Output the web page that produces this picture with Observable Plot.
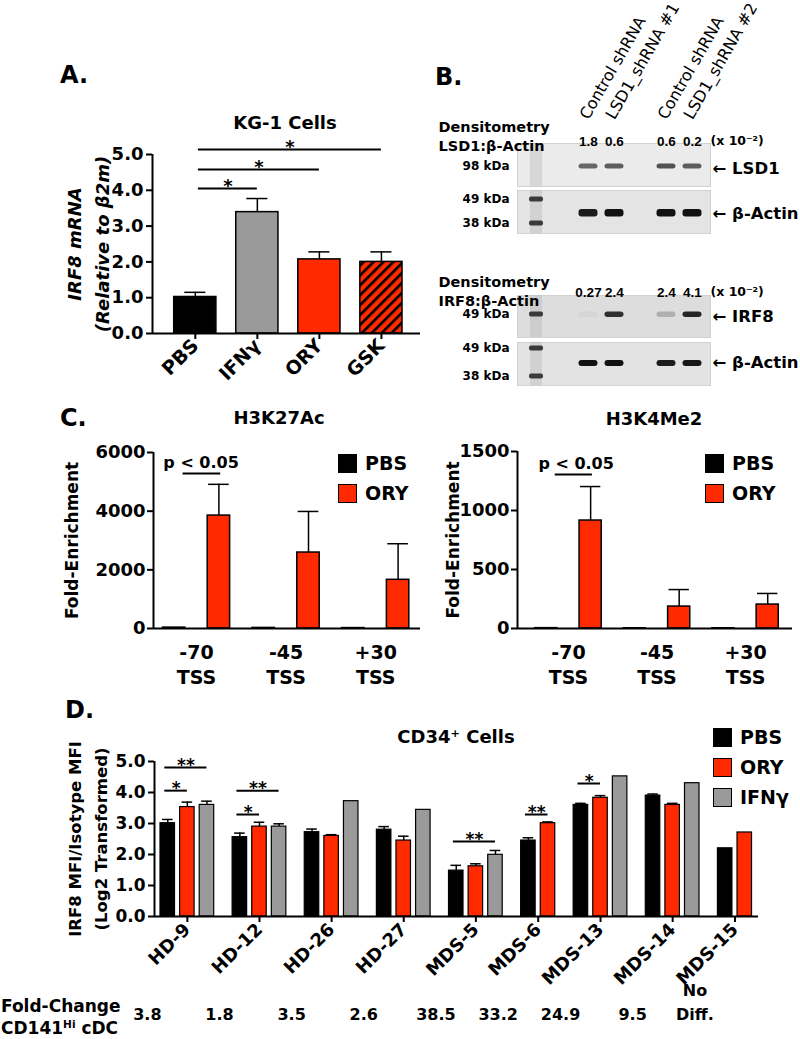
<!DOCTYPE html>
<html>
<head>
<meta charset="utf-8">
<script src="https://cdn.jsdelivr.net/npm/d3@7"></script>
<script src="https://cdn.jsdelivr.net/npm/@observablehq/plot@0.6"></script>
<style>
  html, body { margin: 0; padding: 0; background: #fff; }
  #fig { position: relative; width: 800px; height: 1039px; overflow: hidden; background: #fff;
         font-family: "DejaVu Sans", "Liberation Sans", sans-serif; font-weight: bold; color: #000; }
  #fig .lbl { position: absolute; white-space: nowrap; line-height: 1; }
  #fig .lbl sup { font-size: 0.62em; vertical-align: 0.55em; line-height: 0; }
  #fig svg { position: absolute; }
  #fig .sw { position: absolute; width: 19px; height: 19px; box-sizing: border-box; border: 1.5px solid #000; }
</style>
</head>
<body>
<div id="fig"></div>
<script>
// ================= DATA =================
// Panel A — KG-1 cells, IRF8 mRNA relative to β2m
const aCategories = ["PBS", "IFNγ", "ORY", "GSK"];
const aMeans = [1.02, 3.39, 2.07, 2.00];
const aSEM = [0.13, 0.38, 0.21, 0.28];
const aSigFrom = ["PBS", "PBS", "PBS"];
const aSigTo = ["IFNγ", "ORY", "GSK"];
const aSigLevel = [4.05, 4.58, 5.14];
const aSigLabel = ["*", "*", "*"];

// Panel B — western blots
const bLanes = ["Control shRNA", "LSD1_shRNA #1", "Control shRNA", "LSD1_shRNA #2"];
const bLsd1Ratio = ["1.8", "0.6", "0.6", "0.2"];
const bIrf8Ratio = ["0.27", "2.4", "2.4", "4.1"];
const bLsd1Band = [0.6, 0.65, 0.7, 0.65];
const bActin1Band = [0.95, 1, 1, 1];
const bIrf8Band = [0.04, 0.85, 0.22, 0.9];
const bActin2Band = [1, 1, 0.95, 0.97];

// Panel C — ChIP fold-enrichment
const cSites = ["-70", "-45", "+30"];
const h3k27acPBS = [30, 20, 15];
const h3k27acORY = [3850, 2590, 1660];
const h3k27acORYErr = [1065, 1400, 1230];
const h3k4me2PBS = [3, 2, 2];
const h3k4me2ORY = [915, 186, 203];
const h3k4me2ORYErr = [288, 144, 94];

// Panel D — CD34+ cells, IRF8 MFI / isotype MFI (log2)
const dDonors = ["HD-9", "HD-12", "HD-26", "HD-27", "MDS-5", "MDS-6", "MDS-13", "MDS-14", "MDS-15"];
const dSeries = ["PBS", "ORY", "IFNγ"];
const dPBS = [3.01, 2.56, 2.72, 2.80, 1.48, 2.45, 3.60, 3.90, 2.20];
const dPBSErr = [0.12, 0.13, 0.10, 0.10, 0.17, 0.09, 0.05, 0.05, null];
const dORY = [3.53, 2.90, 2.60, 2.45, 1.62, 3.01, 3.83, 3.60, 2.71];
const dORYErr = [0.16, 0.14, 0.04, 0.14, 0.08, 0.04, 0.07, 0.05, null];
const dIFN = [3.60, 2.90, 3.72, 3.44, 1.99, null, 4.52, 4.30, null];
const dIFNErr = [0.12, 0.09, null, null, 0.14, null, null, null, null];
const dFoldChange = ["3.8", "1.8", "3.5", "2.6", "38.5", "33.2", "24.9", "9.5", "No\nDiff."];
const dSigDonor = ["HD-9", "HD-9", "HD-12", "HD-12", "MDS-5", "MDS-6", "MDS-13"];
const dSigTarget = ["ORY", "IFNγ", "ORY", "IFNγ", "IFNγ", "ORY", "ORY"];
const dSigLevel = [4.06, 4.81, 3.29, 4.06, 2.42, 3.29, 4.29];
const dSigLabel = ["*", "**", "*", "**", "**", "**", "*"];

// ================= STYLE =================
const RED = "#ff2a00", GRAY = "#9a9a9a";
const seriesColor = {PBS: "#000000", ORY: RED, "IFNγ": GRAY, GSK: "url(#gskHatch)"};
const STYLE = "background:transparent;overflow:visible;font-family:'DejaVu Sans',sans-serif;font-weight:bold;color:#000;";
const fig = document.getElementById("fig");

function lbl(html, x, y, size, align = "left", extra = "") {
  const d = document.createElement("div");
  d.className = "lbl";
  d.innerHTML = html;
  d.style.cssText = `font-size:${size}px;left:${x}px;top:${y - 0.5 * size}px;` +
    (align === "center" ? "transform:translateX(-50%);" : "") + extra;
  fig.appendChild(d);
}
function put(svg, left, top) {
  svg.style.left = left + "px";
  svg.style.top = top + "px";
  fig.appendChild(svg);
}
function legend(names, x, y0, step) {
  names.forEach((n, i) => {
    const y = y0 + i * step;
    const sw = document.createElement("div");
    sw.className = "sw";
    sw.style.left = x + "px";
    sw.style.top = (y - 9.5) + "px";
    sw.style.background = seriesColor[n];
    fig.appendChild(sw);
    lbl(n, x + 27, y, 19);
  });
}
function addHatch(svg) {
  const ns = "http://www.w3.org/2000/svg";
  const defs = document.createElementNS(ns, "defs");
  const p = document.createElementNS(ns, "pattern");
  p.setAttribute("id", "gskHatch");
  p.setAttribute("patternUnits", "userSpaceOnUse");
  p.setAttribute("width", "7");
  p.setAttribute("height", "7");
  p.setAttribute("patternTransform", "rotate(45)");
  const r1 = document.createElementNS(ns, "rect");
  r1.setAttribute("width", "7"); r1.setAttribute("height", "7"); r1.setAttribute("fill", RED);
  const r2 = document.createElementNS(ns, "rect");
  r2.setAttribute("width", "2.6"); r2.setAttribute("height", "7"); r2.setAttribute("fill", "#000");
  p.append(r1, r2);
  defs.append(p);
  svg.prepend(defs);
}

// ================= PANEL A =================
{
  const data = aCategories.map((c, i) => ({cat: c, i, mean: aMeans[i], sem: aSEM[i]}));
  const idx = c => aCategories.indexOf(c);
  const sig = aSigFrom.map((f, k) => ({x1: idx(f) + 0.05, x2: idx(aSigTo[k]), level: aSigLevel[k], label: aSigLabel[k]}));
  const half = 0.34, xDom = [-0.69, 3.63];
  const svg = Plot.plot({
    width: 430, height: 380, marginTop: 154, marginBottom: 47, marginLeft: 152, marginRight: 10,
    style: STYLE,
    x: {domain: xDom, axis: null},
    y: {domain: [0, 5], axis: null},
    color: {type: "identity"},
    marks: [
      Plot.rect(data, {x1: d => d.i - half, x2: d => d.i + half, y1: 0, y2: "mean",
        fill: d => seriesColor[d.cat], stroke: "#000", strokeWidth: 1.5}),
      Plot.ruleX(data, {x: "i", y1: "mean", y2: d => d.mean + d.sem, strokeWidth: 1.5}),
      Plot.ruleY(data, {y: d => d.mean + d.sem, x1: d => d.i - 0.17, x2: d => d.i + 0.17, strokeWidth: 1.5}),
      Plot.ruleY([0], {strokeWidth: 2}),
      Plot.ruleX([xDom[0]], {y1: 0, y2: 5, strokeWidth: 2}),
      Plot.axisY({ticks: [0, 1, 2, 3, 4, 5], tickFormat: d => d.toFixed(1), tickSize: 6, tickPadding: 3,
        fontSize: 18, strokeWidth: 2, label: null}),
      Plot.axisX({ticks: [0, 1, 2, 3], tickFormat: i => aCategories[i], tickSize: 6, tickPadding: 3,
        tickRotate: -45, fontSize: 19, strokeWidth: 2, label: null}),
      Plot.ruleY(sig, {y: "level", x1: "x1", x2: "x2", strokeWidth: 2}),
      Plot.text(sig, {x: d => (d.x1 + d.x2) / 2, y: "level", text: "label", dy: -2, fontSize: 18}),
      Plot.text(["IRF8 mRNA\n(Relative to β2m)"], {text: d => d, x: xDom[0], y: 2.5, rotate: -90, dx: -66,
        fontSize: 18, fontStyle: "italic", lineHeight: 1.55})
    ]
  });
  addHatch(svg);
  put(svg, 0, 0);
  lbl("A.", 60, 75, 24);
  lbl("KG-1 Cells", 285, 123, 18, "center");
}

// ================= PANEL B =================
{
  const laneKeys = ["C1", "L1", "C2", "L2"];
  const laneDomain = ["M", "g1", "C1", "L1", "g2", "C2", "L2"];
  const strips = [
    {top: 143, h: 43, fill: "#ebebeb", target: "LSD1", bands: bLsd1Band, inset: [20.5, 17.5], ladder: [],
     kda: [["98 kDa", 1.5]], targetDy: 4, names: true,
     header: {title: "Densitometry\nLSD1:β-Actin", ratios: bLsd1Ratio, titleDy: -24.5, ratioDy: -7}},
    {top: 190, h: 43, fill: "#e4e4e4", target: "β-Actin", bands: bActin1Band, inset: [19, 16.5],
     ladder: [[6.5, 31.5], [30.5, 7.5]], kda: [["49 kDa", -12.5], ["38 kDa", 11.5]], targetDy: 1.5},
    {top: 295, h: 42, fill: "#dddddd", target: "IRF8", bands: bIrf8Band, inset: [16.5, 20],
     ladder: [[16.5, 20.5]], kda: [["49 kDa", -2]], targetDy: 0,
     header: {title: "Densitometry\nIRF8:β-Actin", ratios: bIrf8Ratio, titleDy: -22, ratioDy: -8}},
    {top: 342, h: 43, fill: "#e3e3e3", target: "β-Actin", bands: bActin2Band, inset: [18, 19],
     ladder: [[3.5, 34.5], [31.5, 6.5]], kda: [["49 kDa", -15.5], ["38 kDa", 12.5]], targetDy: -1.5}
  ];
  strips.forEach(s => {
    const lanes = laneKeys.map((k, i) => ({key: k, name: bLanes[i], intensity: s.bands[i],
      ratio: s.header ? s.header.ratios[i] : ""}));
    const marks = [
      Plot.frame({fill: s.fill, stroke: "#d2d2d2"}),
      Plot.cell(["M"], {x: d => d, fill: "#a8a8a8", fillOpacity: 0.3, insetLeft: 7, insetRight: 7}),
      Plot.cell(lanes, {x: "key", fill: "#111", fillOpacity: "intensity", insetTop: s.inset[0], insetBottom: s.inset[1],
        insetLeft: 3.5, insetRight: 3.5, rx: 3}),
      ...s.ladder.map(([t, b]) => Plot.cell(["M"], {x: d => d, fill: "#3a3a3a", insetTop: t, insetBottom: b,
        insetLeft: 6, insetRight: 6, rx: 2})),
      ...s.kda.map(([t, dy]) => Plot.text([t], {text: d => d, frameAnchor: "left", dx: -8, dy, textAnchor: "end", fontSize: 12})),
      Plot.text([`\u2190 ${s.target}`], {text: d => d, frameAnchor: "right", dx: 2, dy: s.targetDy, textAnchor: "start", fontSize: 16.5})
    ];
    if (s.header) {
      marks.push(
        Plot.text(lanes, {x: "key", text: "ratio", frameAnchor: "top", dy: s.header.ratioDy, fontSize: 13.5,
          fontFamily: "'Liberation Sans', sans-serif"}),
        Plot.text(["(x 10⁻²)"], {text: d => d, frameAnchor: "top-right", textAnchor: "start", dy: s.header.ratioDy, fontSize: 12.5}),
        Plot.text([s.header.title], {text: d => d, frameAnchor: "top-left", textAnchor: "start", dx: -79,
          dy: s.header.titleDy, fontSize: 14.5, lineHeight: 1.3})
      );
    }
    if (s.names) {
      marks.push(Plot.text(lanes, {x: "key", text: "name", frameAnchor: "top", dy: -23, rotate: -60,
        textAnchor: "start", lineAnchor: "bottom", fontSize: 16, fontWeight: "normal"}));
    }
    const svg = Plot.plot({
      width: 193, height: s.h, marginTop: 0, marginBottom: 0, marginLeft: 0, marginRight: 0,
      style: STYLE,
      x: {type: "band", domain: laneDomain, paddingInner: 0, paddingOuter: 0.14, axis: null},
      opacity: {type: "identity"},
      marks
    });
    put(svg, 517, s.top);
  });
  lbl("B.", 435, 77, 24);
}

// ================= PANEL C =================
function chipPlot(o) {
  const data = [];
  cSites.forEach((s, i) => {
    data.push({series: "PBS", value: o.pbs[i], center: i - 0.25});
    data.push({series: "ORY", value: o.ory[i], err: o.oryErr[i], center: i + 0.25});
  });
  const ory = data.filter(d => d.series === "ORY");
  const sx = cSites.indexOf("-70");
  return Plot.plot({
    width: o.width, height: 320, marginTop: o.mt, marginBottom: 72, marginLeft: o.ml, marginRight: o.mr,
    style: STYLE,
    x: {domain: o.xDom, axis: null},
    y: {domain: [0, o.yMax], axis: null},
    color: {type: "identity"},
    marks: [
      Plot.rect(data, {x1: d => d.center - 0.125, x2: d => d.center + 0.125, y1: 0, y2: "value",
        fill: d => seriesColor[d.series], stroke: "#000", strokeWidth: 1.5}),
      Plot.ruleX(ory, {x: "center", y1: "value", y2: d => d.value + d.err, strokeWidth: 1.5}),
      Plot.ruleY(ory, {y: d => d.value + d.err, x1: d => d.center - 0.115, x2: d => d.center + 0.115, strokeWidth: 1.5}),
      Plot.ruleY([0], {strokeWidth: 2}),
      Plot.ruleX([o.xDom[0]], {y1: 0, y2: o.yMax, strokeWidth: 2}),
      Plot.axisY({ticks: o.yTicks, tickFormat: d => String(d), tickSize: 6, tickPadding: 2, fontSize: 18,
        strokeWidth: 2, label: null}),
      Plot.text(cSites, {x: (d, i) => i, y: 0, text: d => d + "\nTSS", lineAnchor: "top", dy: 13,
        fontSize: 19, lineHeight: 1.32}),
      Plot.ruleY([o.sigLevel], {x1: sx - 0.15, x2: sx + 0.27, strokeWidth: 2}),
      Plot.text(["p < 0.05"], {text: d => d, x: sx - o.pOff, y: o.sigLevel, textAnchor: "start", dy: -11, fontSize: 16}),
      Plot.text(["Fold-Enrichment"], {text: d => d, x: o.xDom[0], y: o.yMax / 2, rotate: -90, dx: o.titleDx, fontSize: 17})
    ]
  });
}
put(chipPlot({pbs: h3k27acPBS, ory: h3k27acORY, oryErr: h3k27acORYErr, yMax: 6000, yTicks: [0, 2000, 4000, 6000],
  width: 430, mt: 72, ml: 153, mr: 10, xDom: [-0.48, 2.50], sigLevel: 5284, pOff: 0.37, titleDx: -81}), 0, 380);
put(chipPlot({pbs: h3k4me2PBS, ory: h3k4me2ORY, oryErr: h3k4me2ORYErr, yMax: 1500, yTicks: [0, 500, 1000, 1500],
  width: 800, mt: 71, ml: 517, mr: 8, xDom: [-0.576, 2.53], sigLevel: 1305, pOff: 0.34, titleDx: -64}), 0, 380);
lbl("C.", 60, 418, 24);
lbl("H3K27Ac", 279, 418, 18, "center");
lbl("H3K4Me2", 654, 419, 18, "center");
legend(["PBS", "ORY"], 338, 463, 30);
legend(["PBS", "ORY"], 705, 463, 30);

// ================= PANEL D =================
{
  const vals = {PBS: [dPBS, dPBSErr], ORY: [dORY, dORYErr], "IFNγ": [dIFN, dIFNErr]};
  const gap = 0.68, bw = 0.74;
  const bars = [], groups = [];
  let cursor = 0;
  dDonors.forEach((donor, gi) => {
    const first = cursor;
    dSeries.forEach(s => {
      const [v, e] = vals[s];
      if (v[gi] == null) return;
      bars.push({donor, series: s, value: v[gi], err: e[gi], x: cursor, c: cursor + bw / 2});
      cursor += 1;
    });
    groups.push({donor, center: (first + cursor - 1 + bw) / 2, fold: dFoldChange[gi]});
    cursor += gap;
  });
  const centerOf = (donor, s) => bars.find(b => b.donor === donor && b.series === s).c;
  const sig = dSigDonor.map((donor, k) => ({x1: centerOf(donor, "PBS") - 0.15, x2: centerOf(donor, dSigTarget[k]),
    level: dSigLevel[k], label: dSigLabel[k]}));
  const errs = bars.filter(b => b.err != null);
  const tickName = new Map(groups.map(g => [g.center, g.donor]));
  const xDom = [-0.306, 30.51];
  const svg = Plot.plot({
    width: 800, height: 349, marginTop: 71, marginBottom: 123, marginLeft: 154, marginRight: 42,
    style: STYLE,
    x: {domain: xDom, axis: null},
    y: {domain: [0, 5], axis: null},
    color: {type: "identity"},
    marks: [
      Plot.rect(bars, {x1: "x", x2: d => d.x + bw, y1: 0, y2: "value", fill: d => seriesColor[d.series],
        stroke: "#000", strokeWidth: 1.2}),
      Plot.ruleX(errs, {x: "c", y1: "value", y2: d => d.value + d.err, strokeWidth: 1.5}),
      Plot.ruleY(errs, {y: d => d.value + d.err, x1: d => d.c - 0.27, x2: d => d.c + 0.27, strokeWidth: 1.5}),
      Plot.ruleY([0], {strokeWidth: 2}),
      Plot.ruleX([xDom[0]], {y1: 0, y2: 5, strokeWidth: 2}),
      Plot.axisY({ticks: [0, 1, 2, 3, 4, 5], tickFormat: d => d.toFixed(1), tickSize: 6, tickPadding: 3,
        fontSize: 17, strokeWidth: 2, label: null}),
      Plot.axisX({ticks: groups.map(g => g.center), tickFormat: c => tickName.get(c), tickSize: 6, tickPadding: 4,
        tickRotate: -45, fontSize: 18, strokeWidth: 2, label: null}),
      Plot.ruleY(sig, {y: "level", x1: "x1", x2: "x2", strokeWidth: 2}),
      Plot.text(sig, {x: d => (d.x1 + d.x2) / 2, y: "level", text: "label", dy: -2, fontSize: 17}),
      Plot.text(groups, {x: "center", text: "fold", frameAnchor: "bottom", dy: 103, dx: -40, fontSize: 16, lineHeight: 1.45}),
      Plot.text(["IRF8 MFI/Isotype MFI\n(Log2 Transformed)"], {text: d => d, x: xDom[0], y: 2.5, rotate: -90, dx: -69,
        fontSize: 16.5, lineHeight: 1.58})
    ]
  });
  put(svg, 0, 690);
  lbl("D.", 65, 710, 24);
  lbl("CD34<sup>+</sup> Cells", 456, 737, 18, "center");
  legend(["PBS", "ORY", "IFNγ"], 713, 737, 30);
  lbl("Fold-Change", 1, 1006, 17);
  lbl("CD141<sup>Hi</sup> cDC", 1, 1028, 17);
}
</script>
</body>
</html>
